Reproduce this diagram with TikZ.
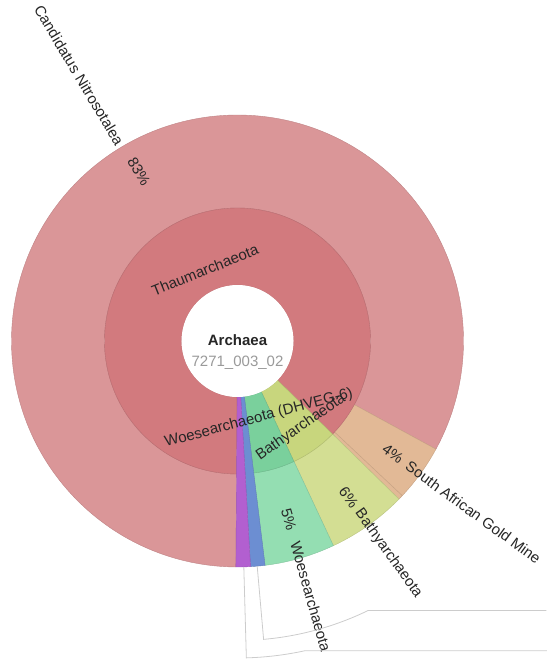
\documentclass[tikz,border=0pt]{standalone}
\usepackage{fontspec}
\setmainfont{Liberation Sans}
\definecolor{redO}{HTML}{DA9698}
\definecolor{redM}{HTML}{D27A7E}
\definecolor{orng}{HTML}{E2B996}
\definecolor{yelO}{HTML}{D3DE93}
\definecolor{yelM}{HTML}{C8D67D}
\definecolor{grnO}{HTML}{94DEB2}
\definecolor{grnM}{HTML}{7AD09C}
\definecolor{blu}{HTML}{6C8ED2}
\definecolor{purp}{HTML}{B25FD0}
\definecolor{txt}{HTML}{262626}
\definecolor{idgray}{HTML}{9A9A9A}
\definecolor{leader}{HTML}{CCCCCC}
\newcommand\sect[5]{\filldraw[fill=#5, draw=#5!88!black, line width=0.4pt]
  (#1:#3pt) arc[start angle=#1, end angle=#2, radius=#3pt] --
  (#2:#4pt) arc[start angle=#2, end angle=#1, radius=#4pt] -- cycle;}
\begin{document}
\begin{tikzpicture}[x=1pt, y=1pt,
  lbl/.style={text=txt, inner sep=0pt, font=\fontsize{15}{18}\selectfont},
  leadline/.style={draw=leader, line width=0.8pt}]
\useasboundingbox (0,0) rectangle (546,-661);
\begin{scope}[shift={(237.5,-341)}]
% outer ring
\sect{-28.6}{269.6}{133}{226}{redO}
\sect{-43.2}{-28.6}{133}{226}{orng}
\sect{-44.4}{-43.2}{133}{226}{orng}
\sect{-64.9}{-44.4}{133}{226}{yelO}
\sect{-83}{-64.9}{133}{226}{grnO}
% middle ring
\sect{-44.4}{269.6}{56}{133}{redM}
\sect{-64.9}{-44.4}{56}{133}{yelM}
\sect{-83}{-64.9}{56}{133}{grnM}
% thin full-depth wedges
\sect{-86.7}{-83}{56}{226}{blu}
\sect{-90.4}{-86.7}{56}{226}{purp}
% centre
\fill[white] (0,0) circle[radius=56pt];
\node[lbl, font=\fontsize{15}{18}\selectfont\bfseries] (arch) at (0,1) {Archaea};
\node[lbl, text=idgray] (sid) at (0,-22) {7271\_003\_02};
% middle ring labels
\node[lbl, rotate=22] (thaum) at (114.6:78pt) {Thaumarchaeota};
\node[lbl, rotate=15] (wdh) at (-74.5:80pt) {Woesearchaeota (DHVEG-6)};
\node[lbl, rotate=35] (bathm) at (-53.7:107pt) {Bathyarchaeota};
% outer ring labels
\node[lbl, rotate=-59.2, anchor=east] (cand) at (120.8:229pt) {Candidatus Nitrosotalea};
\node[lbl, rotate=-59.5] (pcand) at (120.2:196pt) {83\%};
\node[lbl, rotate=-36, anchor=west] (sagm) at (-36:210pt) {South African Gold Mine};
\node[lbl, rotate=-36] (psagm) at (-36:192pt) {4\%};
\node[lbl, rotate=-54.6, anchor=west] (batho) at (-54.6:208pt) {Bathyarchaeota};
\node[lbl, rotate=-54.6] (pbath) at (-54.6:192pt) {6\%};
\node[lbl, rotate=-74, anchor=west] (woeso) at (-74:209pt) {Woesearchaeota};
\node[lbl, rotate=-74] (pwoes) at (-74:186pt) {5\%};
% leader lines to off-picture labels
\coordinate (bluS) at (-85:226pt);
\coordinate (purS) at (-88.4:226pt);
\path[leadline] (bluS) -- (-85:299.5pt) arc[start angle=-85, end angle=-64.1, radius=299.5pt] coordinate (bluK) -- ++(178,0) coordinate (bluE);
\path[leadline] (purS) -- (-88.4:317pt) arc[start angle=-88.4, end angle=-77.7, radius=317pt] coordinate (purK) -- ++(242,0) coordinate (purE);
\end{scope}
\end{tikzpicture}
\end{document}
